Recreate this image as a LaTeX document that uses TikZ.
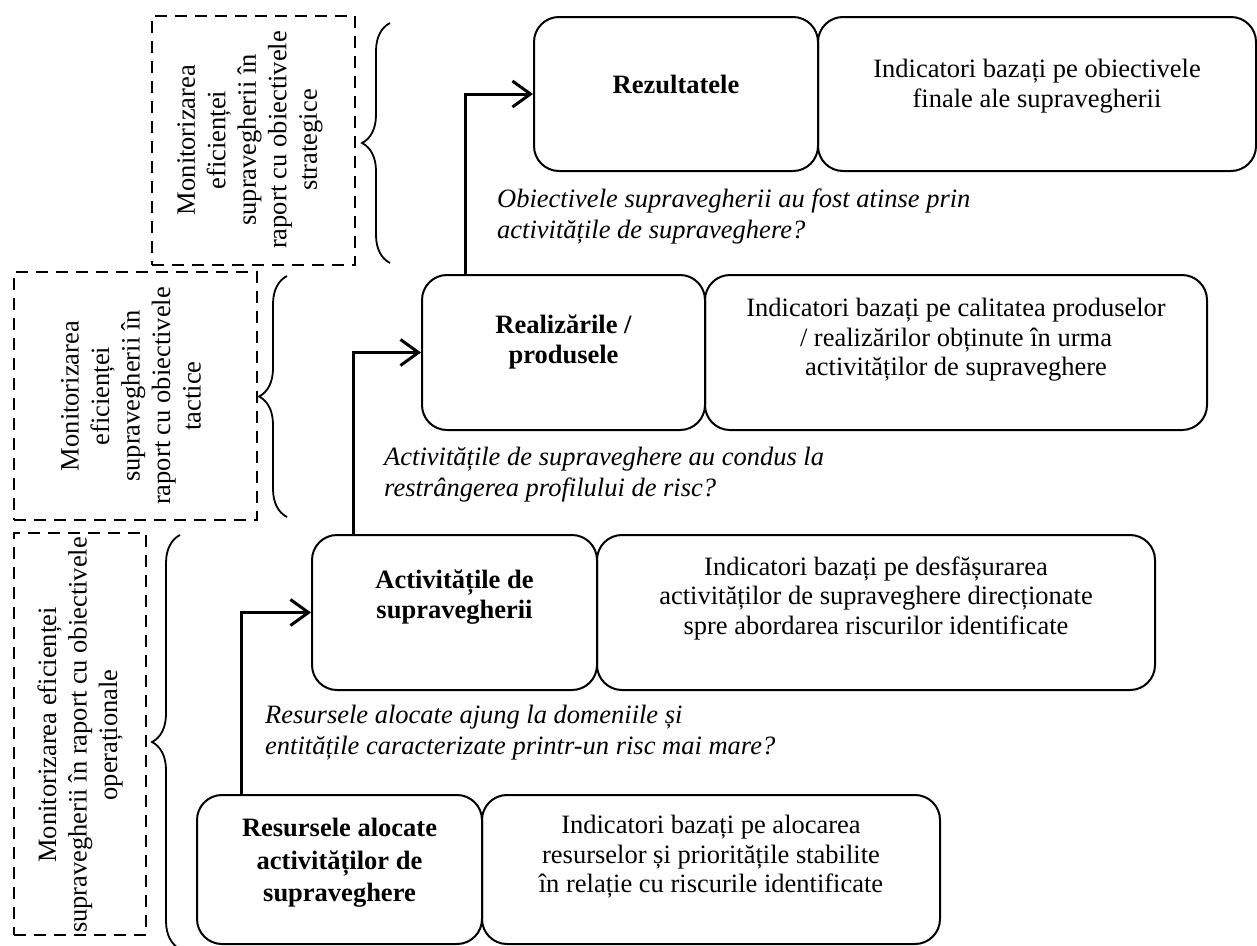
\documentclass[tikz,border=0pt]{standalone}
\usepackage{fontspec}
\setmainfont{Liberation Serif}
\usetikzlibrary{arrows.meta,decorations.pathreplacing}
\begin{document}
\begin{tikzpicture}[x=1pt,y=-1pt,
 box/.style={draw, line width=2pt, rounded corners=25pt, inner sep=0pt},
 dbox/.style={draw, line width=2.5pt, dash pattern=on 12pt off 8pt, inner sep=0pt},
 txt/.style={font=\fontsize{26.5}{29.5}\selectfont, align=center, inner sep=0pt},
 btxt/.style={font=\fontsize{26.5}{29.5}\selectfont\bfseries, align=center, inner sep=0pt},
 qtxt/.style={font=\fontsize{26.5}{31}\selectfont\itshape, align=left, anchor=west, inner sep=0pt},
 rtxt/.style={font=\fontsize{26.5}{30.5}\selectfont, align=center, inner sep=0pt, rotate=90},
 flow/.style={line width=3pt, -{Straight Barb[length=18pt,width=26pt]}},
 brc/.style={line width=1.8pt, decorate, decoration={brace, amplitude=28pt}}
]
\useasboundingbox (0,0) rectangle (1257,945);

% dashed side boxes
\node[dbox, minimum width=203pt, minimum height=249pt] (ds) at (253.5,140.5) {};
\node[dbox, minimum width=243pt, minimum height=248pt] (dt) at (135.5,396) {};
\node[dbox, minimum width=132pt, minimum height=402pt] (do) at (80,734) {};
\node[rtxt] (dstxt) at (250,140) {Monitorizarea\\eficienței\\supravegherii în\\raport cu obiectivele\\strategice};
\node[rtxt] (dttxt) at (131,396) {Monitorizarea\\eficienței\\supravegherii în\\raport cu obiectivele\\tactice};
\node[rtxt] (dotxt) at (80,735) {Monitorizarea eficienței\\supravegherii în raport cu obiectivele\\operaționale};

% braces
\coordinate (b1a) at (390,263); \coordinate (b1b) at (390,23);
\coordinate (b2a) at (287,517); \coordinate (b2b) at (287,276);
\coordinate (b3a) at (180,949); \coordinate (b3b) at (180,535);
\draw[brc] (b1a) -- (b1b);
\draw[brc] (b2a) -- (b2b);
\draw[brc] (b3a) -- (b3b);

% main boxes
\node[box, minimum width=284pt, minimum height=154pt] (rez) at (676,94) {};
\node[box, minimum width=438pt, minimum height=154pt] (rezI) at (1037,94) {};
\node[box, minimum width=283pt, minimum height=155pt] (real) at (563.5,352.5) {};
\node[box, minimum width=502pt, minimum height=155pt] (realI) at (956,352.5) {};
\node[box, minimum width=285pt, minimum height=155pt] (act) at (454.5,612.5) {};
\node[box, minimum width=558pt, minimum height=155pt] (actI) at (876,612.5) {};
\node[box, minimum width=285pt, minimum height=149pt] (res) at (339.5,869.5) {};
\node[box, minimum width=458pt, minimum height=149pt] (resI) at (711,869.5) {};

% box texts
\node[btxt] (rezT) at (676,84) {Rezultatele};
\node[txt] (rezIT) at (1037,86) {Indicatori bazați pe obiectivele\\finale ale supravegherii};
\node[btxt] (realT) at (563.5,342) {Realizările /\\produsele};
\node[txt] (realIT) at (956,340) {Indicatori bazați pe calitatea produselor\\/ realizărilor obținute în urma\\activităților de supraveghere};
\node[btxt] (actT) at (454.5,597) {Activitățile de\\supravegherii};
\node[txt] (actIT) at (876,598) {Indicatori bazați pe desfășurarea\\activităților de supraveghere direcționate\\spre abordarea riscurilor identificate};
\node[btxt, font=\fontsize{26.5}{32.5}\selectfont\bfseries] (resT) at (339.5,863) {Resursele alocate\\activităților de\\supraveghere};
\node[txt] (resIT) at (711,857) {Indicatori bazați pe alocarea\\resurselor și prioritățile stabilite\\în relație cu riscurile identificate};

% questions
\node[qtxt] (q3) at (497,216) {Obiectivele supravegherii au fost atinse prin\\activitățile de supraveghere?};
\node[qtxt] (q2) at (384,475) {Activitățile de supraveghere au condus la\\restrângerea profilului de risc?};
\node[qtxt] (q1) at (265,733) {Resursele alocate ajung la domeniile și\\entitățile caracterizate printr-un risc mai mare?};

% arrows
\draw[flow] (res.north) ++(-98.5,0) |- (act.west);
\draw[flow] (act.north) ++(-101.5,0) |- (real.west);
\draw[flow] (real.north) ++(-98.5,0) |- (rez.west);
\end{tikzpicture}
\end{document}
